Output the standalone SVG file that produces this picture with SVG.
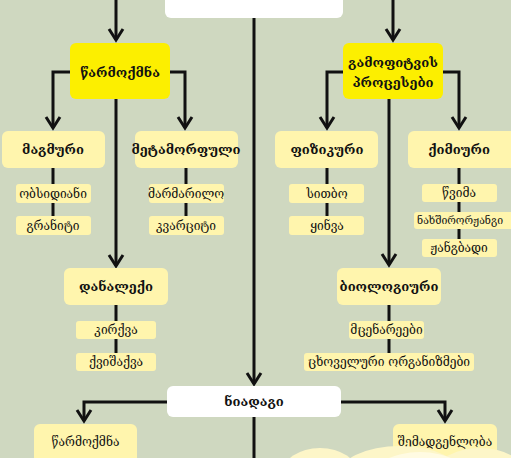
<svg xmlns="http://www.w3.org/2000/svg" width="511" height="458" viewBox="0 0 511 458">
<style>
.bg{fill:#cfd8c0}
.w{fill:#ffffff}
.y{fill:#fcef00}
.ly{fill:#fff5ad}
.c{fill:none;stroke:#111;stroke-width:3}
.t{font-family:"DejaVu Serif","DejaVu Sans",serif;fill:#111;text-anchor:middle;dominant-baseline:central}
.b{font-weight:bold;font-size:13px}
.s{font-size:12px}
</style>
<defs>
<marker id="arr" viewBox="-13 -9 16 18" markerWidth="16" markerHeight="18" refX="0" refY="0" orient="auto" markerUnits="userSpaceOnUse">
<path d="M-11,-7 L0,0 L-11,7" fill="none" stroke="#111" stroke-width="3"/>
</marker>
</defs>
<rect class="bg" x="0" y="0" width="511" height="458"/>

<g id="connectors">
<path class="c" d="M116,0 V40" marker-end="url(#arr)"/>
<path class="c" d="M393,0 V40" marker-end="url(#arr)"/>
<path class="c" d="M254,18 V384" marker-end="url(#arr)"/>
<path class="c" d="M70,72 H53 V128" marker-end="url(#arr)"/>
<path class="c" d="M170,72 H185 V128" marker-end="url(#arr)"/>
<path class="c" d="M116,99 V266" marker-end="url(#arr)"/>
<path class="c" d="M343,72 H327 V128" marker-end="url(#arr)"/>
<path class="c" d="M443,72 H459 V128" marker-end="url(#arr)"/>
<path class="c" d="M389,99 V265" marker-end="url(#arr)"/>
<path class="c" d="M53,168 V216"/>
<path class="c" d="M186,168 V216"/>
<path class="c" d="M327,168 V216"/>
<path class="c" d="M459,168 V239"/>
<path class="c" d="M116,305 V353"/>
<path class="c" d="M389,305 V353"/>
<path class="c" d="M167,402 H84 V421" marker-end="url(#arr)"/>
<path class="c" d="M341,402 H445 V421" marker-end="url(#arr)"/>
<path class="c" d="M254,417 V458"/>
</g>

<g id="top">
<rect class="w" x="165" y="-12" width="178" height="30" rx="6"/>
</g>

<g id="n-formation">
<rect class="y" x="70" y="43" width="100" height="56" rx="6"/>
<text class="t b" x="120" y="72">წარმოქმნა</text>
</g>
<g id="n-weathering">
<rect class="y" x="343" y="43" width="100" height="56" rx="6"/>
<text class="t b" x="393" y="62">გამოფიტვის</text>
<text class="t b" x="393" y="82">პროცესები</text>
</g>

<g id="n-magmatic">
<rect class="ly" x="2" y="131" width="103" height="37" rx="6"/>
<text class="t b" x="53" y="149">მაგმური</text>
</g>
<g id="n-obsidian">
<rect class="ly" x="16" y="184" width="75" height="19" rx="3"/>
<text class="t s" x="53" y="193.5">ობსიდიანი</text>
</g>
<g id="n-granite">
<rect class="ly" x="16" y="216" width="75" height="19" rx="3"/>
<text class="t s" x="53" y="225.5">გრანიტი</text>
</g>

<g id="n-metamorphic">
<rect class="ly" x="135" y="131" width="103" height="37" rx="6"/>
<text class="t b" x="186" y="149">მეტამორფული</text>
</g>
<g id="n-marble">
<rect class="ly" x="149" y="184" width="75" height="19" rx="3"/>
<text class="t s" x="186" y="193.5">მარმარილო</text>
</g>
<g id="n-quartzite">
<rect class="ly" x="149" y="216" width="75" height="19" rx="3"/>
<text class="t s" x="186" y="225.5">კვარციტი</text>
</g>

<g id="n-physical">
<rect class="ly" x="275" y="131" width="103" height="37" rx="6"/>
<text class="t b" x="327" y="149">ფიზიკური</text>
</g>
<g id="n-heat">
<rect class="ly" x="289" y="184" width="75" height="19" rx="3"/>
<text class="t s" x="327" y="193.5">სითბო</text>
</g>
<g id="n-frost">
<rect class="ly" x="289" y="216" width="75" height="19" rx="3"/>
<text class="t s" x="327" y="225.5">ყინვა</text>
</g>

<g id="n-chemical">
<rect class="ly" x="408" y="131" width="108" height="37" rx="6"/>
<text class="t b" x="459" y="149">ქიმიური</text>
</g>
<g id="n-rain">
<rect class="ly" x="422" y="184" width="75" height="18" rx="3"/>
<text class="t s" x="459" y="193">წვიმა</text>
</g>
<g id="n-co2">
<rect class="ly" x="414" y="212" width="102" height="17" rx="3"/>
<text class="t" x="460" y="220.5" font-size="11" textLength="86" lengthAdjust="spacingAndGlyphs">ნახშირორჟანგი</text>
</g>
<g id="n-oxygen">
<rect class="ly" x="422" y="239" width="75" height="18" rx="3"/>
<text class="t s" x="459" y="248">ჟანგბადი</text>
</g>

<g id="n-sedimentary">
<rect class="ly" x="64" y="268" width="104" height="37" rx="6"/>
<text class="t b" x="116" y="286.5">დანალექი</text>
</g>
<g id="n-limestone">
<rect class="ly" x="76" y="321" width="80" height="18" rx="3"/>
<text class="t s" x="116" y="330">კირქვა</text>
</g>
<g id="n-sandstone">
<rect class="ly" x="76" y="353" width="80" height="18" rx="3"/>
<text class="t s" x="116" y="362">ქვიშაქვა</text>
</g>

<g id="n-biological">
<rect class="ly" x="337" y="268" width="104" height="37" rx="6"/>
<text class="t b" x="389" y="286.5">ბიოლოგიური</text>
</g>
<g id="n-plants">
<rect class="ly" x="349" y="321" width="75" height="18" rx="3"/>
<text class="t s" x="386.5" y="330">მცენარეები</text>
</g>
<g id="n-animals">
<rect class="ly" x="304" y="353" width="170" height="18" rx="3"/>
<text class="t s" x="389" y="362">ცხოველური ორგანიზმები</text>
</g>

<g id="n-soil">
<rect class="w" x="167" y="386" width="174" height="31" rx="6"/>
<text class="t b" x="254" y="401.5">ნიადაგი</text>
</g>
<g id="n-soil-formation">
<rect class="ly" x="34" y="424" width="103" height="44" rx="6"/>
<text class="t s" x="85.5" y="442">წარმოქმნა</text>
</g>
<g id="n-composition">
<rect class="ly" x="393" y="424" width="104" height="44" rx="6"/>
<text class="t s" x="445" y="442">შემადგენლობა</text>
</g>

<g id="clouds">
<ellipse cx="320" cy="474" rx="38" ry="26" fill="#fdf6c8"/>
<ellipse cx="400" cy="476" rx="62" ry="30" fill="#fdf6c8"/>
<ellipse cx="480" cy="474" rx="45" ry="26" fill="#fdf6c8"/>
<ellipse cx="420" cy="480" rx="50" ry="28" fill="#fffbe2"/>
</g>
</svg>
